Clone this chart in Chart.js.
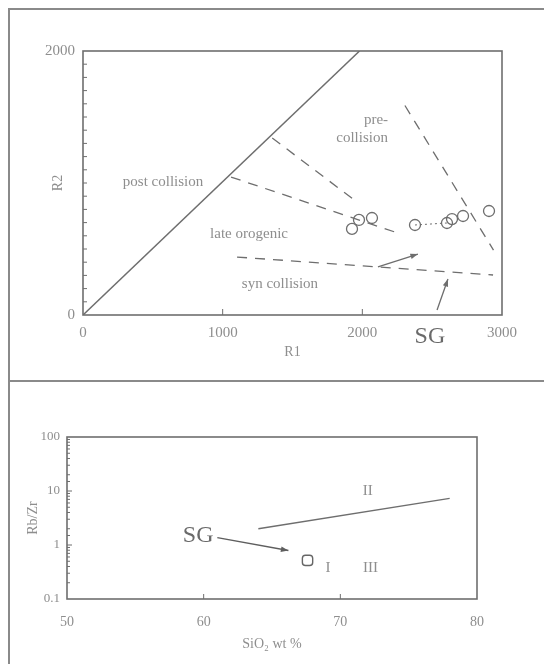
<!DOCTYPE html>
<html>
<head>
<meta charset="utf-8">
<script src="https://cdn.jsdelivr.net/npm/chart.js@4.4.1/dist/chart.umd.min.js"></script>
<style>
  html, body { margin: 0; padding: 0; background: #fff; }
  body { width: 544px; height: 664px; position: relative; overflow: hidden; }
  canvas { position: absolute; left: 0; }
  #topChart { top: 0; }
  #bottomChart { top: 382px; }
  .rule { position: absolute; background: #8a8a8a; }
</style>
</head>
<body>
<canvas id="topChart" width="544" height="380"></canvas>
<canvas id="bottomChart" width="544" height="282"></canvas>
<div class="rule" style="left:8px;top:8px;width:1.5px;height:656px"></div>
<div class="rule" style="left:8px;top:8px;width:536px;height:1.5px"></div>
<div class="rule" style="left:8px;top:380px;width:536px;height:1.5px"></div>
<script>
// ---- R1-R2 diagram (top) ----
const r1Samples = [1926, 1976, 2069, 2377, 2606, 2642, 2721, 2907];
const r2Samples = [652, 720, 735, 682, 697, 727, 750, 788];
const r1Ticks = [0, 1000, 2000, 3000];
const r2Ticks = [0, 2000];
const mantleLine = [[0, 0], [1980, 2000]];
const lateOrogenicTop = [[1060, 1045], [2255, 621]];
const preCollisionLeft = [[1355, 1341], [1962, 856]];
const preCollisionRight = [[2305, 1587], [2939, 492]];
const synCollisionTop = [[1103, 439], [2936, 303]];
const sampleLink = [[2377, 682], [2606, 697]];
const arrowA = [[2112, 364], [2398, 462]];
const arrowB = [[2535, 38], [2613, 273]];
const fieldLabels = ["post collision", "late orogenic", "syn collision", "pre-", "collision"];
const fieldLabelR1 = [573, 1189, 1410, 2098, 1998];
const fieldLabelR2 = [1008, 614, 235, 1477, 1341];
const sgTopAt = [2484, -167];

// ---- Rb/Zr vs SiO2 (bottom) ----
const sio2Sample = [67.6];
const rbzrSample = [0.52];
const sio2Ticks = [50, 60, 70, 80];
const rbzrTicks = [0.1, 1, 10, 100];
const typeDivide = [[64, 2.0], [78, 7.3]];
const sgArrow = [[61.0, 1.37], [66.2, 0.79]];
const typeLabels = ["II", "I", "III"];
const typeLabelSiO2 = [72.0, 69.1, 72.2];
const typeLabelRbZr = [10, 0.38, 0.38];
const sgBottomAt = [59.6, 1.5];

const SERIF = '"Liberation Serif", "DejaVu Serif", "Times New Roman", serif';
const INK = '#6e6e6e';
const TEXT = '#8e8e8e';
Chart.defaults.font.family = SERIF;
Chart.defaults.color = TEXT;

const seg = (pairs, dash, width) => ({
  data: pairs.map(([x, y]) => ({ x, y })),
  showLine: true,
  borderColor: INK,
  borderWidth: width || 1.3,
  borderDash: dash || [],
  pointRadius: 0,
  fill: false,
  tension: 0
});

function arrowHead(ctx, sx, sy, ex, ey, size) {
  const ang = Math.atan2(ey - sy, ex - sx);
  ctx.beginPath();
  ctx.moveTo(ex, ey);
  ctx.lineTo(ex - size * Math.cos(ang - 0.35), ey - size * Math.sin(ang - 0.35));
  ctx.lineTo(ex - size * Math.cos(ang + 0.35), ey - size * Math.sin(ang + 0.35));
  ctx.closePath();
  ctx.fill();
}

function tick(ctx, x1, y1, x2, y2) {
  ctx.beginPath();
  ctx.moveTo(x1, y1);
  ctx.lineTo(x2, y2);
  ctx.stroke();
}

const topDecor = {
  id: 'topDecor',
  afterDatasetsDraw(chart) {
    const { ctx, chartArea: a, scales: { x, y } } = chart;
    ctx.save();
    ctx.strokeStyle = INK;
    ctx.lineWidth = 1.6;
    ctx.strokeRect(a.left, a.top, a.right - a.left, a.bottom - a.top);
    ctx.lineWidth = 1;
    y.ticks.forEach(t => {
      if (t.value <= 0 || t.value >= 2000) return;
      const py = y.getPixelForValue(t.value);
      tick(ctx, a.left, py, a.left + 4, py);
    });
    x.ticks.forEach(t => {
      if (t.value <= 0 || t.value >= 3000) return;
      const px = x.getPixelForValue(t.value);
      tick(ctx, px, a.bottom, px, a.bottom - 6);
    });
    ctx.fillStyle = INK;
    [arrowA, arrowB].forEach(([s, e]) => {
      arrowHead(ctx, x.getPixelForValue(s[0]), y.getPixelForValue(s[1]),
        x.getPixelForValue(e[0]), y.getPixelForValue(e[1]), 8);
    });
    ctx.fillStyle = TEXT;
    ctx.font = '15px ' + SERIF;
    ctx.textAlign = 'center';
    ctx.textBaseline = 'middle';
    fieldLabels.forEach((t, i) => {
      ctx.fillText(t, x.getPixelForValue(fieldLabelR1[i]), y.getPixelForValue(fieldLabelR2[i]));
    });
    ctx.fillStyle = '#6a6a6a';
    ctx.font = '24px ' + SERIF;
    ctx.fillText('SG', x.getPixelForValue(sgTopAt[0]), y.getPixelForValue(sgTopAt[1]));
    ctx.restore();
  }
};

new Chart(document.getElementById('topChart'), {
  type: 'scatter',
  data: {
    datasets: [
      seg(mantleLine, [], 1.5),
      seg(lateOrogenicTop, [10, 8]),
      seg(preCollisionLeft, [10, 8]),
      seg(preCollisionRight, [10, 8]),
      seg(synCollisionTop, [10, 8]),
      seg(sampleLink, [2, 3], 1),
      seg(arrowA, [], 1.3),
      seg(arrowB, [], 1.3),
      {
        data: r1Samples.map((v, i) => ({ x: v, y: r2Samples[i] })),
        showLine: false,
        pointStyle: 'circle',
        pointRadius: 5.5,
        borderColor: INK,
        backgroundColor: 'rgba(0,0,0,0)',
        borderWidth: 1.3
      }
    ]
  },
  options: {
    responsive: false,
    animation: false,
    events: [],
    layout: { padding: { top: 51, right: 42, left: 34, bottom: 19 } },
    plugins: { legend: { display: false }, tooltip: { enabled: false } },
    scales: {
      x: {
        type: 'linear', min: 0, max: 3000,
        grid: { display: false, drawTicks: false },
        border: { display: false },
        ticks: {
          stepSize: 1000, padding: 9, maxRotation: 0, color: TEXT, font: { size: 15 },
          callback: v => r1Ticks.includes(v) ? String(v) : ''
        },
        title: { display: true, text: 'R1', color: TEXT, font: { size: 14 }, padding: 0 },
        afterFit: s => { s.height = 46; }
      },
      y: {
        type: 'linear', min: 0, max: 2000,
        grid: { display: false, drawTicks: false },
        border: { display: false },
        ticks: {
          stepSize: 100, autoSkip: false, padding: 8, color: TEXT, font: { size: 15 },
          callback: v => r2Ticks.includes(v) ? String(v) : ''
        },
        title: { display: true, text: 'R2', color: TEXT, font: { size: 14 }, padding: { top: 16, bottom: 0 } },
        afterFit: s => { s.width = 49; }
      }
    }
  },
  plugins: [topDecor]
});

const isDecade = v => Math.abs(Math.log10(v) - Math.round(Math.log10(v))) < 1e-9;

const bottomDecor = {
  id: 'bottomDecor',
  afterDatasetsDraw(chart) {
    const { ctx, chartArea: a, scales: { x, y } } = chart;
    ctx.save();
    ctx.strokeStyle = INK;
    ctx.lineWidth = 1.6;
    ctx.strokeRect(a.left, a.top, a.right - a.left, a.bottom - a.top);
    ctx.lineWidth = 1;
    y.ticks.forEach(t => {
      if (t.value <= 0.1 || t.value >= 100) return;
      const py = y.getPixelForValue(t.value);
      tick(ctx, a.left, py, a.left + (isDecade(t.value) ? 5 : 3), py);
    });
    x.ticks.forEach(t => {
      if (t.value <= 50 || t.value >= 80) return;
      const px = x.getPixelForValue(t.value);
      tick(ctx, px, a.bottom, px, a.bottom - 5);
    });
    ctx.fillStyle = '#5e5e5e';
    const [s, e] = sgArrow;
    arrowHead(ctx, x.getPixelForValue(s[0]), y.getPixelForValue(s[1]),
      x.getPixelForValue(e[0]), y.getPixelForValue(e[1]), 8);
    ctx.fillStyle = TEXT;
    ctx.font = '15px ' + SERIF;
    ctx.textAlign = 'center';
    ctx.textBaseline = 'middle';
    typeLabels.forEach((t, i) => {
      ctx.fillText(t, x.getPixelForValue(typeLabelSiO2[i]), y.getPixelForValue(typeLabelRbZr[i]));
    });
    ctx.fillStyle = '#6a6a6a';
    ctx.font = '24px ' + SERIF;
    ctx.fillText('SG', x.getPixelForValue(sgBottomAt[0]), y.getPixelForValue(sgBottomAt[1]));
    ctx.restore();
  }
};

new Chart(document.getElementById('bottomChart'), {
  type: 'scatter',
  data: {
    datasets: [
      seg(typeDivide, [], 1.4),
      Object.assign(seg(sgArrow, [], 1.5), { borderColor: '#5e5e5e' }),
      {
        data: sio2Sample.map((v, i) => ({ x: v, y: rbzrSample[i] })),
        showLine: false,
        pointStyle: 'rectRounded',
        pointRadius: 6,
        borderColor: '#666',
        backgroundColor: 'rgba(0,0,0,0)',
        borderWidth: 1.4
      }
    ]
  },
  options: {
    responsive: false,
    animation: false,
    events: [],
    layout: { padding: { top: 55, right: 67, left: 25, bottom: 11 } },
    plugins: { legend: { display: false }, tooltip: { enabled: false } },
    scales: {
      x: {
        type: 'linear', min: 50, max: 80,
        grid: { display: false, drawTicks: false },
        border: { display: false },
        ticks: {
          stepSize: 10, padding: 15, maxRotation: 0, color: TEXT, font: { size: 14 },
          callback: v => sio2Ticks.includes(v) ? String(v) : ''
        },
        title: { display: true, text: 'SiO\u2082 wt %', color: TEXT, font: { size: 14 }, padding: 0 },
        afterFit: s => { s.height = 54; }
      },
      y: {
        type: 'logarithmic', min: 0.1, max: 100,
        grid: { display: false, drawTicks: false },
        border: { display: false },
        ticks: {
          autoSkip: false, padding: 7, color: TEXT, font: { size: 13 },
          callback: v => rbzrTicks.some(t => Math.abs(t - v) < 1e-9) ? String(v) : ''
        },
        title: { display: true, text: 'Rb/Zr', color: TEXT, font: { size: 14 }, padding: 0 },
        afterFit: s => { s.width = 42; }
      }
    }
  },
  plugins: [bottomDecor]
});
</script>
</body>
</html>
